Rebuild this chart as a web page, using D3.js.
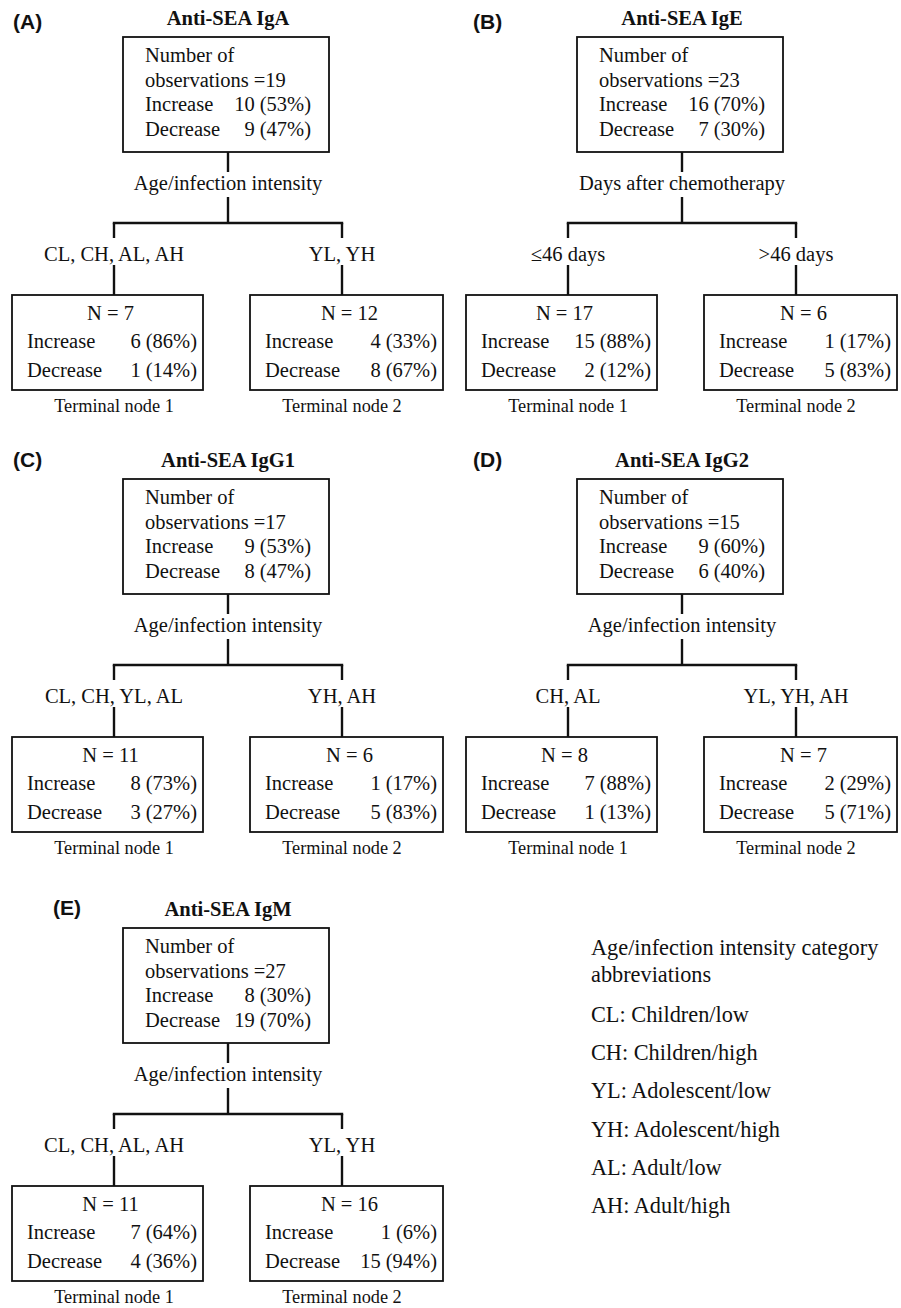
<!DOCTYPE html>
<html>
<head>
<meta charset="utf-8">
<script src="https://cdn.jsdelivr.net/npm/d3@7"></script>
<style>
  body { margin: 0; background: #fff; }
  svg { display: block; }
  .serif { font-family: "Liberation Serif", "Times New Roman", serif; fill: #111; }
  .letter { font-family: "Liberation Sans", Arial, sans-serif; font-weight: bold; fill: #111; }
</style>
</head>
<body>
<div id="chart"></div>
<script>
// values
const panelLetters = ["(A)", "(B)", "(C)", "(D)", "(E)"];
const panelTitles = ["Anti-SEA IgA", "Anti-SEA IgE", "Anti-SEA IgG1", "Anti-SEA IgG2", "Anti-SEA IgM"];
const rootTotals = [19, 23, 17, 15, 27];
const rootIncrease = [10, 16, 9, 9, 8];
const rootIncreasePct = [53, 70, 53, 60, 30];
const rootDecrease = [9, 7, 8, 6, 19];
const rootDecreasePct = [47, 30, 47, 40, 70];
const splitVariables = ["Age/infection intensity", "Days after chemotherapy", "Age/infection intensity",
  "Age/infection intensity", "Age/infection intensity"];
const leftBranches = ["CL, CH, AL, AH", "\u226446 days", "CL, CH, YL, AL", "CH, AL", "CL, CH, AL, AH"];
const rightBranches = ["YL, YH", ">46 days", "YH, AH", "YL, YH, AH", "YL, YH"];
const node1N = [7, 17, 11, 8, 11];
const node1Increase = [6, 15, 8, 7, 7];
const node1IncreasePct = [86, 88, 73, 88, 64];
const node1Decrease = [1, 2, 3, 1, 4];
const node1DecreasePct = [14, 12, 27, 13, 36];
const node2N = [12, 6, 6, 7, 16];
const node2Increase = [4, 1, 1, 2, 1];
const node2IncreasePct = [33, 17, 17, 29, 6];
const node2Decrease = [8, 5, 5, 5, 15];
const node2DecreasePct = [67, 83, 83, 71, 94];

const legendHeading = ["Age/infection intensity category", "abbreviations"];
const abbrevCodes = ["CL", "CH", "YL", "YH", "AL", "AH"];
const abbrevMeanings = ["Children/low", "Children/high", "Adolescent/low", "Adolescent/high", "Adult/low", "Adult/high"];

const width = 901, height = 1308;

// panel layout (relative to each panel's top)
const L = {
  titleY: 25, letterY: [29, 25, 24],
  rootTop: 37, rootBottom: 152, rootLeft: -105, rootRight: 101,
  rootTextInset: 22, rootNumInset: 18, rootLine0: 62, rootStep: 24.6,
  stem1: [152, 172], splitLabelY: 190, stem2: [197, 223],
  branchDx: 114, drop1: [223, 238], branchLabelY: 261, drop2: [265, 295],
  childTop: 295, childBottom: 390, childText: [320, 348, 377],
  leftBox: [-216, -25], rightBox: [22, 215],
  childTextInset: 15, childNumInset: 6, terminalY: 412
};

const fmt = (n, p) => `${n} (${p}%)`;

const svg = d3.select("#chart").append("svg")
  .attr("width", width).attr("height", height);

const colX = d3.scalePoint().domain([0, 1]).range([228, 682]);
const rowY = d3.scaleOrdinal().domain([0, 1, 2]).range([0, 442, 891]);

const panels = panelTitles.map((t, i) => ({
  i, col: i % 2, row: Math.floor(i / 2), lone: i === panelTitles.length - 1 && i % 2 === 0
}));

const g = svg.selectAll("g.panel").data(panels).join("g")
  .attr("class", "panel")
  .attr("transform", d => `translate(${colX(d.col)},${rowY(d.row)})`);

g.append("text").attr("class", "letter")
  .attr("x", d => (d.col === 0 ? -215 : -209) + (d.lone ? 40 : 0))
  .attr("y", d => L.letterY[d.row])
  .attr("font-size", 21)
  .text(d => panelLetters[d.i]);

g.append("text").attr("class", "serif")
  .attr("x", 0).attr("y", L.titleY)
  .attr("text-anchor", "middle").attr("font-weight", "bold").attr("font-size", 20.5)
  .text(d => panelTitles[d.i]);

// root node
g.append("rect")
  .attr("x", L.rootLeft).attr("y", L.rootTop)
  .attr("width", L.rootRight - L.rootLeft).attr("height", L.rootBottom - L.rootTop)
  .attr("fill", "none").attr("stroke", "#111").attr("stroke-width", 1.8);

g.each(function (d) {
  const p = d3.select(this);
  const i = d.i;
  const rows = [
    ["Number of", ""],
    [`observations =${rootTotals[i]}`, ""],
    ["Increase", fmt(rootIncrease[i], rootIncreasePct[i])],
    ["Decrease", fmt(rootDecrease[i], rootDecreasePct[i])]
  ];
  rows.forEach((r, k) => {
    const y = L.rootLine0 + k * L.rootStep;
    p.append("text").attr("class", "serif").attr("font-size", 20.5)
      .attr("x", L.rootLeft + L.rootTextInset).attr("y", y).text(r[0]);
    if (r[1]) p.append("text").attr("class", "serif").attr("font-size", 20.5)
      .attr("text-anchor", "end")
      .attr("x", L.rootRight - L.rootNumInset).attr("y", y).text(r[1]);
  });

  // connectors
  const line = (x1, y1, x2, y2) => p.append("line")
    .attr("x1", x1).attr("y1", y1).attr("x2", x2).attr("y2", y2)
    .attr("stroke", "#111").attr("stroke-width", 2.4);
  line(0, L.stem1[0], 0, L.stem1[1]);
  line(0, L.stem2[0], 0, L.stem2[1]);
  line(-L.branchDx - 1.2, L.stem2[1], L.branchDx + 1.2, L.stem2[1]);

  p.append("text").attr("class", "serif").attr("font-size", 20.5)
    .attr("text-anchor", "middle").attr("x", 0).attr("y", L.splitLabelY)
    .text(splitVariables[i]);

  const sides = [
    { dx: -L.branchDx, box: L.leftBox, label: leftBranches[i], n: node1N[i],
      inc: fmt(node1Increase[i], node1IncreasePct[i]), dec: fmt(node1Decrease[i], node1DecreasePct[i]), term: "Terminal node 1" },
    { dx: L.branchDx, box: L.rightBox, label: rightBranches[i], n: node2N[i],
      inc: fmt(node2Increase[i], node2IncreasePct[i]), dec: fmt(node2Decrease[i], node2DecreasePct[i]), term: "Terminal node 2" }
  ];
  sides.forEach(s => {
    line(s.dx, L.drop1[0], s.dx, L.drop1[1]);
    line(s.dx, L.drop2[0], s.dx, L.drop2[1]);
    p.append("text").attr("class", "serif").attr("font-size", 20.5)
      .attr("text-anchor", "middle").attr("x", s.dx).attr("y", L.branchLabelY)
      .text(s.label);
    p.append("rect")
      .attr("x", s.box[0]).attr("y", L.childTop)
      .attr("width", s.box[1] - s.box[0]).attr("height", L.childBottom - L.childTop)
      .attr("fill", "none").attr("stroke", "#111").attr("stroke-width", 1.8);
    const mid = (s.box[0] + s.box[1]) / 2 + 3;
    p.append("text").attr("class", "serif").attr("font-size", 20.5)
      .attr("text-anchor", "middle").attr("x", mid).attr("y", L.childText[0])
      .text(`N = ${s.n}`);
    [["Increase", s.inc], ["Decrease", s.dec]].forEach((r, k) => {
      const y = L.childText[k + 1];
      p.append("text").attr("class", "serif").attr("font-size", 20.5)
        .attr("x", s.box[0] + L.childTextInset).attr("y", y).text(r[0]);
      p.append("text").attr("class", "serif").attr("font-size", 20.5)
        .attr("text-anchor", "end")
        .attr("x", s.box[1] - L.childNumInset).attr("y", y).text(r[1]);
    });
    p.append("text").attr("class", "serif").attr("font-size", 18.3)
      .attr("text-anchor", "middle").attr("x", s.dx).attr("y", L.terminalY)
      .text(s.term);
  });
});

// abbreviation legend
const legend = svg.append("g").attr("transform", "translate(591,0)");
legend.selectAll("text.head").data(legendHeading).join("text")
  .attr("class", "serif head").attr("font-size", 22.3)
  .attr("x", 0).attr("y", (d, k) => 955 + k * 27)
  .text(d => d);

const entryY = d3.scalePoint().domain(abbrevCodes).range([1022, 1213]);
legend.selectAll("text.entry").data(abbrevCodes).join("text")
  .attr("class", "serif entry").attr("font-size", 22.3)
  .attr("x", 0).attr("y", d => entryY(d))
  .text((d, k) => `${d}: ${abbrevMeanings[k]}`);
</script>
</body>
</html>
